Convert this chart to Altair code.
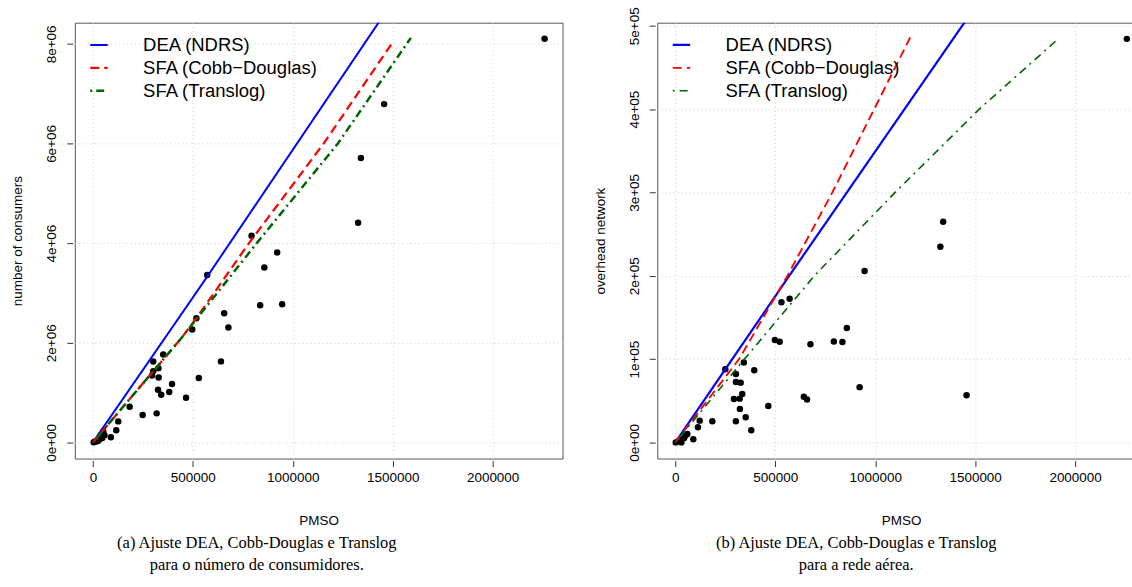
import altair as alt
import pandas as pd

# ---------------- data ----------------
# Panel (a): PMSO vs number of consumers
pmso_a = [2260000, 1457000, 1341000, 1327000, 794000, 922000, 858000, 572000, 837000, 947000,
          657000, 518000, 678000, 497000, 641000, 352000, 302000, 328000, 302000, 296000,
          329000, 530000, 396000, 326000, 382000, 342000, 466000, 184000, 249000, 319000,
          127000, 117000, 90000, 58000, 52000, 47000, 40000, 33000, 25000, 17000, 10000, 4000]
consumers_a = [8100000, 6790000, 5710000, 4410000, 4150000, 3810000, 3510000, 3360000, 2754000, 2774000,
               2594000, 2494000, 2306000, 2266000, 1626000, 1764000, 1624000, 1490000, 1431000, 1343000,
               1303000, 1291000, 1171000, 1057000, 1011000, 957000, 897000, 717000, 551000, 583000,
               422000, 242000, 102000, 142000, 220000, 90000, 150000, 56000, 30000, 22000, 12000, 5000]

# Panel (b): PMSO vs overhead network
pmso_b = [2259000, 1340000, 1326000, 947000, 572000, 531000, 858000, 498000, 522000, 793000,
          836000, 676000, 343000, 250000, 395000, 303000, 303000, 327000, 922000, 335000,
          293000, 322000, 643000, 659000, 1457000, 323000, 465000, 122000, 185000, 303000,
          352000, 380000, 113000, 90000, 60000, 50000, 43000, 30000, 25000, 18000, 2000]
network_b = [484300, 264700, 234900, 205700, 172300, 168300, 137300, 122900, 120900, 121000,
             120500, 117700, 96000, 87700, 86500, 82100, 72500, 71700, 66300, 58100,
             52100, 52500, 54700, 51500, 56600, 40200, 43700, 26100, 25300, 25300,
             30100, 14500, 18100, 3700, 10000, 8000, 4900, 0, 3000, 2000, 0]

# fitted frontiers
dea_a_x = [0, 357500, 564000, 1430600, 1470000]
dea_a_y = [0, 2078000, 3280000, 8433000, 8660000]
cd_a_x = [0, 440000, 518000, 781000, 1155000, 1498000]
cd_a_y = [0, 2080000, 2494000, 4000000, 6000000, 8020000]
tl_a_x = [0, 440000, 820000, 1226000, 1591000]
tl_a_y = [0, 2080000, 4000000, 6000000, 8120000]

dea_b_x = [0, 570000, 1449000, 1480000]
dea_b_y = [0, 200000, 504800, 515500]
cd_b_x = [0, 319000, 561000, 785600, 995000, 1175000]
cd_b_y = [0, 100000, 200000, 300000, 400000, 485900]
tl_b_x = [0, 346000, 696000, 1099600, 1521000, 1915700]
tl_b_y = [0, 100000, 200000, 300000, 400000, 484300]

models = ["DEA (NDRS)", "SFA (Cobb\u2212Douglas)", "SFA (Translog)"]
colors = ["#0000FF", "#FF0000", "#006400"]

x_ticks = [0, 500000, 1000000, 1500000, 2000000]
y_ticks_a = [0, 2000000, 4000000, 6000000, 8000000]
y_ticks_b = [0, 100000, 200000, 300000, 400000, 500000]

captions_a = ["(a) Ajuste DEA, Cobb-Douglas e Translog", "para o n\u00famero de consumidores."]
captions_b = ["(b) Ajuste DEA, Cobb-Douglas e Translog", "para a rede a\u00e9rea."]

# ---------------- helpers ----------------
SANS = "Liberation Sans"
SERIF = "Liberation Serif"
W, H = 489, 437


def curves(parts):
    rows = []
    for name, xs, ys in parts:
        for i, (xv, yv) in enumerate(zip(xs, ys)):
            rows.append({"pmso": xv, "val": yv, "model": name, "idx": i})
    return pd.DataFrame(rows)


def x_axis():
    return alt.Axis(values=x_ticks, format="d", title="PMSO", grid=True, gridDash=[1, 3],
                    gridColor="#cfcfcf", domain=False, offset=2, tickSize=6, tickColor="#333333",
                    labelFont=SANS, labelFontSize=13.5, labelColor="black", labelPadding=4,
                    labelFlush=False, labelOverlap=False,
                    titleFont=SANS, titleFontSize=13.5, titleFontWeight="normal",
                    titleColor="black", titlePadding=30)


def y_axis(ticks, title, expr):
    return alt.Axis(values=ticks, labelExpr=expr, title=title, grid=True, gridDash=[1, 3],
                    gridColor="#cfcfcf", domain=False, offset=2, tickSize=6, tickColor="#333333",
                    labelFont=SANS, labelFontSize=13.5, labelColor="black", labelPadding=8,
                    labelAngle=270, labelFlush=False, labelOverlap=False,
                    titleFont=SANS, titleFontSize=13.5, titleFontWeight="normal",
                    titleColor="black", titlePadding=20)


def legend():
    return alt.Legend(title=None, orient="none", legendX=15, legendY=13,
                      symbolType="M-1.75,0H1.75", symbolSize=100, symbolStrokeWidth=2,
                      labelFont=SANS, labelFontSize=18.5, labelColor="black",
                      labelOffset=35, rowPadding=4, padding=0, labelLimit=0)


def panel(px, py, ytitle, ydomain, yticks, expr, parts, dashes, widths, caption, cap_dx):
    xs = alt.Scale(domain=[-90400, 2349600], nice=False, zero=False)
    ys = alt.Scale(domain=ydomain, nice=False, zero=False)
    xenc = alt.X("pmso:Q", scale=xs, axis=x_axis())
    yenc = alt.Y("val:Q", scale=ys, axis=y_axis(yticks, ytitle, expr))
    pts = pd.DataFrame({"pmso": px, "val": py})
    points = alt.Chart(pts).mark_circle(size=42, color="black", opacity=1).encode(x=xenc, y=yenc)
    lines = alt.Chart(curves(parts)).mark_line(clip=True).encode(
        x=xenc,
        y=yenc,
        color=alt.Color("model:N", scale=alt.Scale(domain=models, range=colors), legend=legend()),
        strokeDash=alt.StrokeDash("model:N", scale=alt.Scale(domain=models, range=dashes), legend=legend()),
        strokeWidth=alt.StrokeWidth("model:N", scale=alt.Scale(domain=models, range=widths), legend=None),
        order=alt.Order("idx:Q"),
    )
    return alt.layer(points, lines).properties(
        width=W, height=H,
        title=alt.TitleParams(caption, orient="bottom", anchor="middle", font=SERIF, fontSize=16.5,
                              fontWeight="normal", color="black", offset=8, lineHeight=22,
                              dx=cap_dx),
    )


left = panel(pmso_a, consumers_a, "number of consumers", [-324000, 8424000], y_ticks_a,
             "datum.value == 0 ? '0e+00' : format(datum.value / 1000000, 'd') + 'e+06'",
             [(models[0], dea_a_x, dea_a_y), (models[1], cd_a_x, cd_a_y), (models[2], tl_a_x, tl_a_y)],
             [[1, 0], [9, 5], [2, 4, 8, 4]], [2, 2.5, 2], captions_a, -62)

right = panel(pmso_b, network_b, "overhead network", [-19400, 503700], y_ticks_b,
              "datum.value == 0 ? '0e+00' : format(datum.value / 100000, 'd') + 'e+05'",
              [(models[0], dea_b_x, dea_b_y), (models[1], cd_b_x, cd_b_y), (models[2], tl_b_x, tl_b_y)],
              [[1, 0], [9, 5], [2, 5, 8, 5]], [2.2, 1.6, 2], captions_b, -45)

chart = alt.hconcat(left, right, spacing=29).resolve_scale(
    color="independent", strokeDash="independent", strokeWidth="independent"
).properties(
    padding={"left": 10, "top": 5, "right": -14, "bottom": 0},
    background="white",
).configure_view(stroke="#555555", strokeWidth=1)

chart.save("out.html", embed_options={"renderer": "svg", "actions": False})
